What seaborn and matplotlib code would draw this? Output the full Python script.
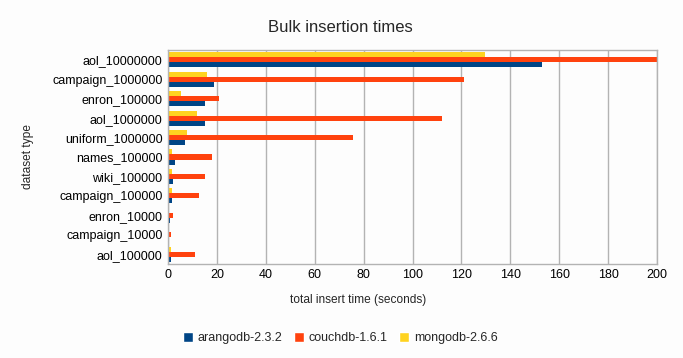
import pandas as pd
import seaborn as sns
import matplotlib.pyplot as plt
from matplotlib.patches import Patch

OUTPUT_IMAGE = 'out.png'

# Dataset names (top to bottom as in the chart)
datasets = ['aol_10000000', 'campaign_1000000', 'enron_100000', 'aol_1000000',
            'uniform_1000000', 'names_100000', 'wiki_100000', 'campaign_100000',
            'enron_10000', 'campaign_10000', 'aol_100000']

# Insert times in seconds
arangodb = [152.8, 18.9, 15.1, 15.1, 6.8, 3.0, 2.2, 1.5, 0.9, 0.3, 1.2]
couchdb = [205.0, 121.0, 21.0, 112.2, 75.5, 18.1, 15.0, 12.5, 1.9, 1.2, 11.2]
mongodb = [129.6, 16.1, 5.3, 11.7, 7.6, 1.8, 1.5, 1.5, 0.5, 0.2, 1.2]

series_names = ['arangodb-2.3.2', 'couchdb-1.6.1', 'mongodb-2.6.6']
colors = {'arangodb-2.3.2': '#004586',
          'couchdb-1.6.1': '#ff420e',
          'mongodb-2.6.6': '#ffd320'}


def build_frame():
    rows = []
    for name, vals in zip(series_names, [arangodb, couchdb, mongodb]):
        for ds, v in zip(datasets, vals):
            rows.append({'dataset': ds, 'db': name, 'time': v})
    return pd.DataFrame(rows)


def plot(df):
    sns.set_style('white')
    plt.rcParams['font.family'] = ['Liberation Sans', 'DejaVu Sans']

    fig = plt.figure(figsize=(6.83, 3.58), dpi=100)
    fig.patch.set_facecolor('#fdfdfd')
    ax = fig.add_axes([0.246, 0.263, 0.716, 0.597])
    ax.set_facecolor('#fdfdfd')

    # mongodb drawn on top within each group, arangodb at the bottom
    sns.barplot(data=df, y='dataset', x='time', hue='db', order=datasets,
                hue_order=series_names[::-1], palette=colors, orient='h',
                width=0.78, saturation=1, linewidth=0, legend=False, ax=ax)

    ax.set_xlim(0, 200)
    ax.set_xticks(range(0, 201, 20))
    ax.xaxis.grid(True, color='#b3b3b3', linewidth=1)
    ax.yaxis.grid(False)
    ax.set_axisbelow(True)
    for sp in ax.spines.values():
        sp.set_color('#b3b3b3')
        sp.set_linewidth(1)
    ax.tick_params(axis='both', length=0, labelsize=9, colors='#000000', pad=4)

    ax.set_xlabel('')
    ax.set_ylabel('dataset type', fontsize=8.6, labelpad=13)
    fig.text(0.498, 0.924, 'Bulk insertion times', fontsize=12,
             ha='center', va='center')
    fig.text(0.524, 0.162, 'total insert time (seconds)', fontsize=8.6,
             ha='center', va='center')

    handles = [Patch(facecolor=colors[n], label=n) for n in series_names]
    fig.legend(handles=handles, loc='center', bbox_to_anchor=(0.498, 0.055),
               ncol=3, frameon=False, fontsize=9, handlelength=0.8,
               handleheight=0.8, handletextpad=0.4, columnspacing=0.9)

    fig.savefig(OUTPUT_IMAGE, dpi=100, facecolor=fig.get_facecolor())


if __name__ == '__main__':
    plot(build_frame())
